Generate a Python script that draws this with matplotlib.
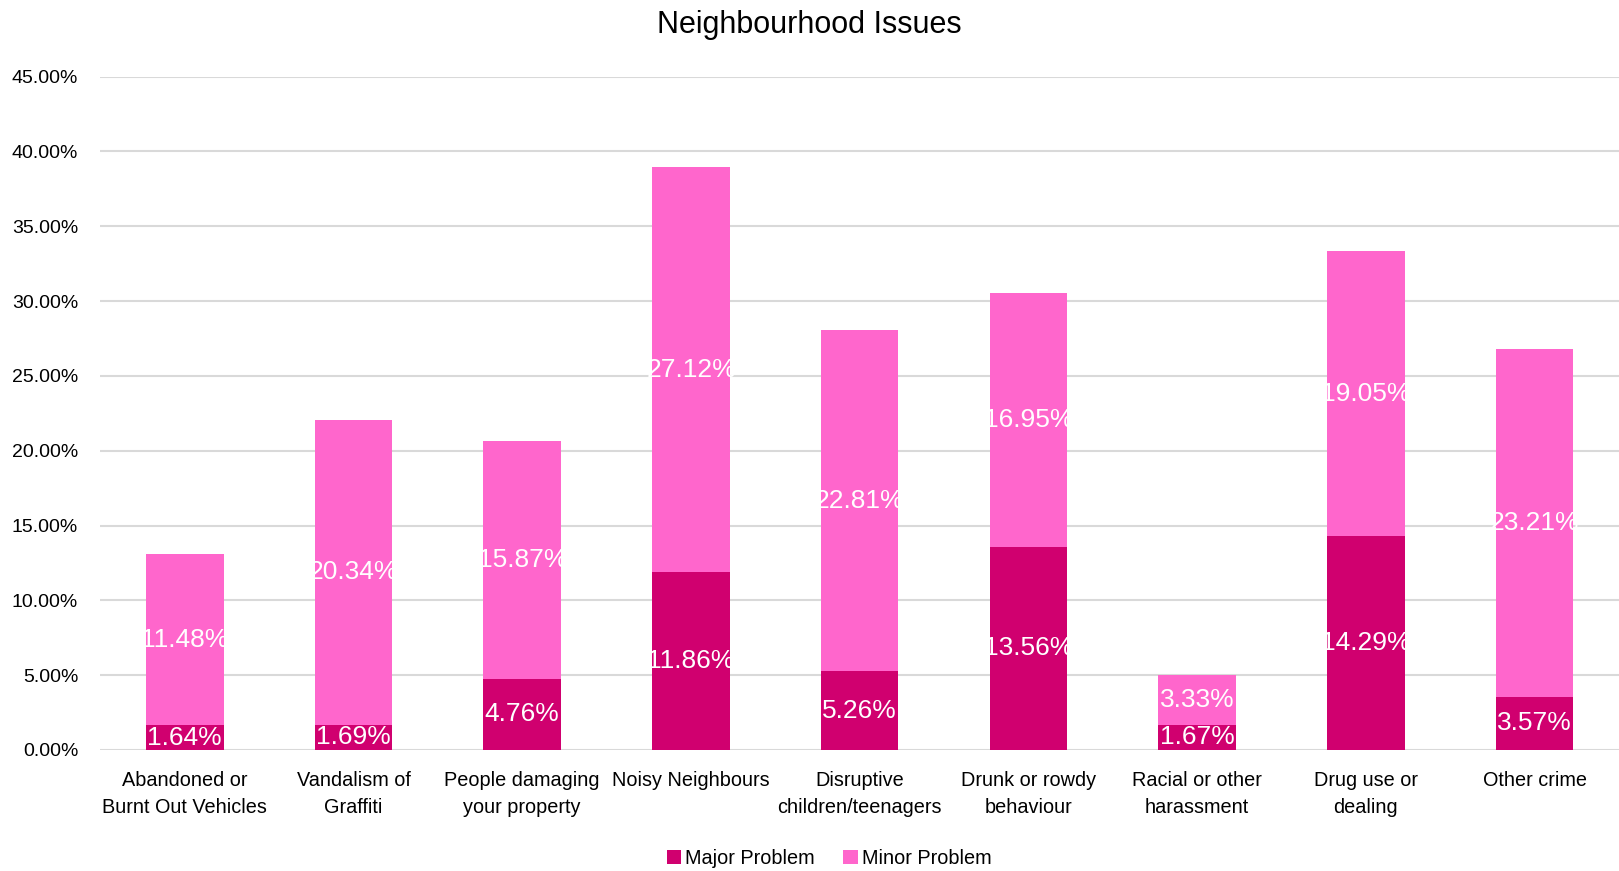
#!/usr/bin/env python3
"""Stacked bar chart of neighbourhood issues."""

import matplotlib
matplotlib.use('Agg')
from matplotlib import pyplot as plt
from matplotlib import font_manager
from matplotlib.ticker import FuncFormatter

categories = ['Abandoned or\nBurnt Out Vehicles', 'Vandalism of\nGraffiti',
              'People damaging\nyour property', 'Noisy Neighbours',
              'Disruptive\nchildren/teenagers', 'Drunk or rowdy\nbehaviour',
              'Racial or other\nharassment', 'Drug use or\ndealing', 'Other crime']
major = [1.64, 1.69, 4.76, 11.86, 5.26, 13.56, 1.67, 14.29, 3.57]
minor = [11.48, 20.34, 15.87, 27.12, 22.81, 16.95, 3.33, 19.05, 23.21]
y_ticks = [0, 5, 10, 15, 20, 25, 30, 35, 40, 45]

MAJOR_COLOR = '#D0006F'
MINOR_COLOR = '#FF66CC'


def main():
    names = {f.name for f in font_manager.fontManager.ttflist}
    family = 'Liberation Sans Narrow' if 'Liberation Sans Narrow' in names else 'Liberation Sans'
    plt.rcParams['font.family'] = [family, 'DejaVu Sans']

    fig = plt.figure(figsize=(16.19, 8.71), dpi=100)
    ax = fig.add_axes([0.062, 0.139, 0.938, 0.773])

    x = list(range(len(categories)))
    width = 0.46
    b1 = ax.bar(x, major, width, color=MAJOR_COLOR, label='Major Problem', zorder=3)
    b2 = ax.bar(x, minor, width, bottom=major, color=MINOR_COLOR,
                label='Minor Problem', zorder=3)

    for i in x:
        ax.text(i, major[i] / 2, '{:.2f}%'.format(major[i]), ha='center',
                va='center', color='white', fontsize=19, zorder=4)
        ax.text(i, major[i] + minor[i] / 2, '{:.2f}%'.format(minor[i]),
                ha='center', va='center', color='white', fontsize=19, zorder=4)

    ax.set_xlim(-0.5, len(categories) - 0.5)
    ax.set_ylim(0, 45)
    ax.set_yticks(y_ticks)
    ax.yaxis.set_major_formatter(FuncFormatter(lambda v, p: '{:.2f}%'.format(v)))
    ax.set_xticks(x)
    ax.set_xticklabels(categories, fontsize=14.3, linespacing=1.55)
    ax.tick_params(axis='y', labelsize=14, length=0, pad=16)
    ax.tick_params(axis='x', length=0, pad=15)
    ax.grid(axis='y', color='#D9D9D9', linewidth=1.5, zorder=0)
    for s in ax.spines.values():
        s.set_visible(False)

    fig.suptitle('Neighbourhood Issues', fontsize=22, y=0.988, va='top')
    fig.legend(handles=[b1, b2], loc='lower center', bbox_to_anchor=(0.512, -0.017),
               ncol=2, frameon=False, fontsize=14.3, handlelength=0.75,
               handleheight=0.75, handletextpad=0.2, columnspacing=1.4)

    fig.savefig('out.png')


if __name__ == '__main__':
    main()
